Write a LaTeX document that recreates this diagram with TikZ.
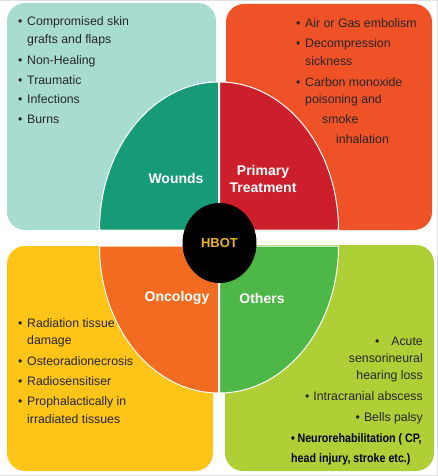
\documentclass[tikz,border=0pt]{standalone}
\usepackage{fontspec}
\setmainfont{Liberation Sans}
\usepackage{graphicx}
\definecolor{tlbox}{HTML}{A8DCD1}
\definecolor{wound}{HTML}{179A76}
\definecolor{trbox}{HTML}{F05228}
\definecolor{prim}{HTML}{CD1F2B}
\definecolor{blbox}{HTML}{FEC418}
\definecolor{onco}{HTML}{F36B21}
\definecolor{brbox}{HTML}{AFCF37}
\definecolor{oth}{HTML}{4DB848}
\definecolor{hbot}{HTML}{E9B324}
\definecolor{trtxt}{HTML}{3A0E08}
\newcommand{\bul}{\makebox[9pt][l]{•}}
\tikzset{
 box/.style={rounded corners=18pt},
 quarter/.style={draw=white, line width=1pt},
 item/.style={anchor=base west, inner sep=0pt, font=\fontsize{12.3}{14}\selectfont, text=black!85},
 itemr/.style={item, anchor=base east},
 lbl/.style={font=\fontsize{14}{17}\selectfont\bfseries, text=white, align=center, inner sep=0pt},
}
\begin{document}
\begin{tikzpicture}[x=1pt,y=1pt]
\useasboundingbox (0,0) rectangle (438,-476);
\draw[black!12, line width=1pt] (0,-0.5) -- (437.5,-0.5) -- (437.5,-475.5) -- (0,-475.5);
% boxes
\fill[box, tlbox] (7,-3) rectangle (216,-230);
\fill[box, trbox] (226,-4) rectangle (432,-230);
\fill[box, blbox] (7,-246) rectangle (213,-471);
\fill[box, brbox] (225,-245) rectangle (434,-471);
% quarters
\path[quarter, fill=wound] (218.5,-230) -- (99.5,-230) arc[start angle=180, end angle=90, x radius=119, y radius=148] -- cycle;
\path[quarter, fill=prim] (219.5,-230) -- (219.5,-82) arc[start angle=90, end angle=0, x radius=119, y radius=148] -- cycle;
\path[quarter, fill=onco] (218.5,-246) -- (99.5,-246) arc[start angle=180, end angle=270, x radius=119, y radius=147] -- cycle;
\path[quarter, fill=oth] (219.5,-246) -- (338.5,-246) arc[start angle=0, end angle=-90, x radius=119, y radius=147] -- cycle;
% centre
\fill[black] (219.5,-243) ellipse[x radius=37, y radius=40];
\node[inner sep=0pt, font=\fontsize{13}{15}\selectfont\bfseries, text=hbot] (hbot) at (219.5,-243) {HBOT};
% labels
\node[lbl] (wounds) at (176,-178) {Wounds};
\node[lbl] (primary) at (263,-179) {Primary\\Treatment};
\node[lbl] (oncology) at (177,-298) {Oncology};
\node[lbl] (others) at (262,-298) {Others};
% top-left list
\node[item] (tl1) at (18,-26) {\bul Compromised skin};
\node[item] (tl2) at (27,-44) {grafts and flaps};
\node[item] (tl3) at (18,-64.5) {\bul Non-Healing};
\node[item] (tl4) at (18,-84.5) {\bul Traumatic};
\node[item] (tl5) at (18,-104) {\bul Infections};
\node[item] (tl6) at (18,-124) {\bul Burns};
% top-right list
\begin{scope}[every node/.append style={text=trtxt}]
\node[item] (tr1) at (296,-27.5) {\bul Air or Gas embolism};
\node[item] (tr2) at (296,-47.5) {\bul Decompression};
\node[item] (tr3) at (305,-65.5) {sickness};
\node[item] (tr4) at (296,-86.5) {\bul Carbon monoxide};
\node[item] (tr5) at (305,-103.5) {poisoning and};
\node[item] (tr6) at (322,-123.5) {smoke};
\node[item] (tr7) at (336,-143.5) {inhalation};
\end{scope}
% bottom-left list
\node[item] (bl1) at (18,-327.5) {\bul Radiation tissue};
\node[item] (bl2) at (27,-344.5) {damage};
\node[item] (bl3) at (18,-365.5) {\bul Osteoradionecrosis};
\node[item] (bl4) at (18,-385.5) {\bul Radiosensitiser};
\node[item] (bl5) at (18,-405.5) {\bul Prophalactically in};
\node[item] (bl6) at (27,-423.5) {irradiated tissues};
% bottom-right list
\node[itemr] (br1) at (423,-345.5) {•\hspace{12pt}Acute};
\node[itemr] (br2) at (423,-362.5) {sensorineural};
\node[itemr] (br3) at (423,-379.5) {hearing loss};
\node[itemr] (br4) at (423,-400.5) {•\hspace{4pt}Intracranial abscess};
\node[itemr] (br5) at (423,-421.5) {•\hspace{4pt}Bells palsy};
\node[item, text=black] (br6) at (291,-442.5) {\scalebox{0.87}[1]{\bfseries •\hspace{3pt}Neurorehabilitation ( CP,}};
\node[item, text=black] (br7) at (291,-462.5) {\scalebox{0.87}[1]{\bfseries head injury, stroke etc.)}};
\end{tikzpicture}
\end{document}
